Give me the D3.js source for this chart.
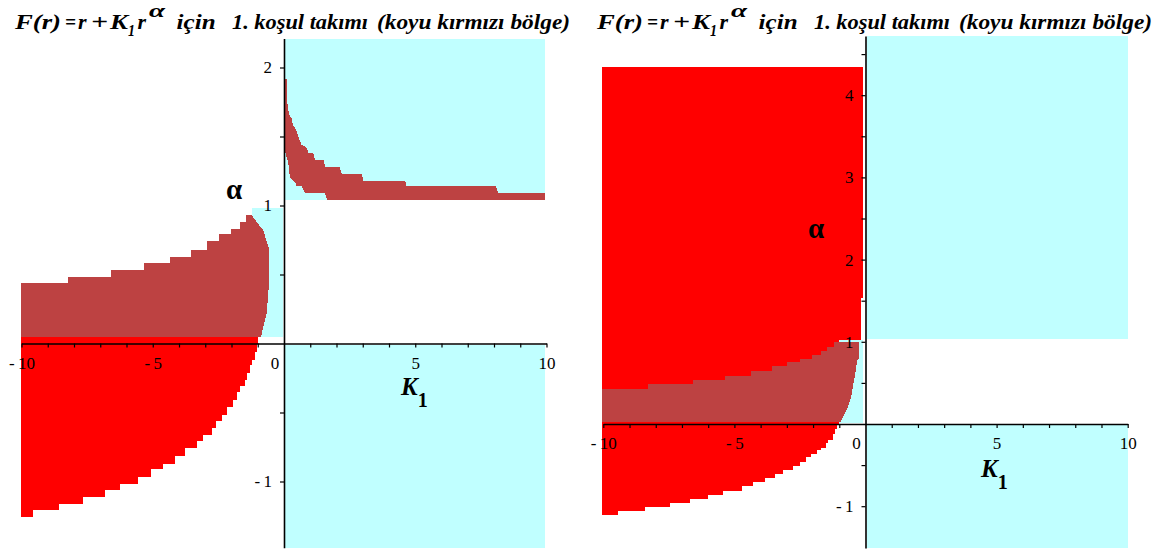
<!DOCTYPE html>
<html><head><meta charset="utf-8">
<script src="https://cdn.jsdelivr.net/npm/d3@7"></script>
<style>body{margin:0;background:#fff}svg{display:block}</style>
</head><body><svg id="c" width="1159" height="552"></svg>
<script>
// ---------------- DATA (K1, alpha) ----------------
const xTickLabels = [-10, -5, 0, 5, 10];
const leftYTickLabels = [-1, 1, 2];
const rightYTickLabels = [-1, 1, 2, 3, 4];

// Left panel
const leftCyan = [
  [[0.04,1.04],[9.95,1.04],[9.95,2.21],[0.04,2.21]],
  [[0.04,-0.01],[9.95,-0.01],[9.95,-1.48],[0.04,-1.48]],
  [[-1.22,0.045],[-0.04,0.045],[-0.04,0.985],[-1.22,0.985]]
];
const leftRedStepK = [-10.03,-9.55,-8.56,-7.67,-6.82,-6.25,-5.55,-5.08,-4.60,-4.15,-3.77,-3.33,-3.07,-2.75,-2.59,-2.37,-2.16,-1.95,-1.78,-1.68,-1.49,-1.40,-1.30,-1.21,-1.10,-1.02,-0.98];
const leftRedStepA = [-1.26,-1.21,-1.16,-1.11,-1.06,-1.02,-0.965,-0.91,-0.87,-0.815,-0.76,-0.71,-0.66,-0.615,-0.56,-0.52,-0.46,-0.41,-0.35,-0.31,-0.265,-0.215,-0.155,-0.12,-0.06,0.0];
const leftRedTop = 0.045;
const leftDarkStepK = [-10.03,-8.24,-6.59,-5.33,-4.35,-3.55,-2.94,-2.48,-2.03,-1.68,-1.45,-1.23];
const leftDarkStepA = [0.44,0.48,0.53,0.58,0.63,0.68,0.74,0.79,0.83,0.88,0.93];
const leftDarkEdge = [[-1.04,0.88],[-0.79,0.82],[-0.66,0.74],[-0.56,0.68],[-0.56,0.46],[-0.66,0.22],[-0.79,0.12],[-0.88,0.045]];
const leftDarkBottom = 0.045;
const leftBandUpper = [[0.04,1.92],[0.13,1.92],[0.13,1.74],[0.19,1.66],[0.29,1.63],[0.35,1.58],[0.46,1.55],[0.54,1.50],[0.67,1.44],[0.86,1.42],[0.93,1.38],[1.12,1.38],[1.18,1.33],[1.52,1.33],[1.56,1.28],[2.11,1.28],[2.20,1.23],[2.96,1.23],[3.02,1.18],[4.61,1.18],[4.67,1.14],[8.08,1.14],[8.16,1.09],[9.95,1.09]];
const leftBandLower = [[0.04,1.39],[0.16,1.31],[0.23,1.20],[0.42,1.17],[0.48,1.14],[0.67,1.14],[0.80,1.09],[1.56,1.09],[1.65,1.04],[9.95,1.04]];

// Right panel
const rightCyan = [
  [[0.04,1.04],[10,1.04],[10,4.72],[0.04,4.72]],
  [[0.04,-0.01],[10,-0.01],[10,-1.51],[0.04,-1.51]],
  [[-1.0,0.01],[-0.08,0.01],[-0.08,1.02],[-1.0,1.02]]
];
const rightRedUpper = [[-10.06,4.34],[-0.08,4.34],[-0.08,1.53],[-0.18,1.53],[-0.18,1.02],[-1.0,1.02],[-1.0,0.03],[-10.06,0.03]];
const rightRedStepK = [-10.06,-9.43,-8.41,-7.46,-6.69,-6.0,-5.42,-4.72,-4.28,-3.83,-3.45,-3.13,-2.75,-2.50,-2.27,-2.09,-1.86,-1.71,-1.51,-1.42,-1.25,-1.16,-1.08,-1.0];
const rightRedStepA = [-1.11,-1.06,-1.01,-0.96,-0.91,-0.86,-0.81,-0.76,-0.71,-0.66,-0.61,-0.56,-0.51,-0.46,-0.405,-0.36,-0.32,-0.29,-0.235,-0.19,-0.125,-0.065,-0.01];
const rightRedTop = 0.03;
const rightDarkStepK = [-10.06,-8.28,-6.59,-5.36,-4.38,-3.58,-3.0,-2.5,-2.05,-1.71,-1.48,-1.2,-0.24];
const rightDarkStepA = [0.43,0.49,0.54,0.59,0.64,0.70,0.75,0.79,0.84,0.89,0.94,1.0];
const rightDarkEdge = [[-0.24,0.81],[-0.31,0.77],[-0.36,0.69],[-0.40,0.59],[-0.46,0.49],[-0.52,0.37],[-0.62,0.25],[-0.72,0.17],[-0.85,0.09],[-0.97,0.02]];
const rightDarkBottom = 0.02;

// ---------------- DRAWING ----------------
const svg = d3.select("#c");
const COL = {cyan:"#c0ffff", red:"#ff0000", dark:"#bd4242"};
const SERIF = "'Liberation Serif','Times New Roman',serif";

function stepBelow(ks, as, top){
  const pts=[[ks[0],top],[ks[0],as[0]]];
  for(let i=0;i<as.length;i++){ pts.push([ks[i+1],as[i]]); if(i+1<as.length) pts.push([ks[i+1],as[i+1]]); }
  pts.push([ks[ks.length-1], top]);
  return pts;
}
function stepAbove(ks, as, edge, bottom){
  const pts=[[ks[0],bottom],[ks[0],as[0]]];
  for(let i=0;i<as.length;i++){ pts.push([ks[i+1],as[i]]); if(i+1<as.length) pts.push([ks[i+1],as[i+1]]); }
  edge.forEach(p=>pts.push(p));
  pts.push([edge[edge.length-1][0], bottom]);
  return pts;
}
const fmtTick = d => d<0 ? "-\u2009"+(-d) : String(d);

function panel(cfg){
  const {x, y, g} = cfg;
  const line = d3.line().x(d=>x(d[0])).y(d=>y(d[1]));
  const draw = (pts, col) => g.append("path").attr("d", line(pts)+"Z").attr("fill", col).attr("stroke","none").attr("shape-rendering","crispEdges");
  cfg.cyan.forEach(p=>draw(p, COL.cyan));
  cfg.reds.forEach(p=>draw(p, COL.red));
  cfg.darks.forEach(p=>draw(p, COL.dark));

  // x axis
  const xa = d3.axisBottom(x).tickValues(d3.range(-10,11,1).filter(d=>d!==0))
     .tickSize(4).tickSizeOuter(0).tickPadding(9)
     .tickFormat(d => xTickLabels.includes(d) ? fmtTick(d) : "");
  const gx = g.append("g").attr("transform",`translate(0,${y(0)})`).call(xa);
  gx.select(".domain").attr("stroke","#000").attr("stroke-width",1.6);
  gx.selectAll(".tick line").attr("stroke","#000").attr("stroke-width",1.2);
  gx.selectAll("text").attr("font-family",SERIF).attr("font-size",17).attr("fill","#000");
  g.append("text").attr("x", x(0)-9).attr("y", y(0)+9+4).attr("dy","0.71em")
    .attr("text-anchor","middle").attr("font-family",SERIF).attr("font-size",17).text(xTickLabels[2]);

  // y axis
  const ya = d3.axisLeft(y).tickValues(cfg.yTicks).tickSize(4).tickSizeOuter(0).tickPadding(8)
     .tickFormat(d => cfg.yLabels.includes(d) ? fmtTick(d) : "");
  const gy = g.append("g").attr("transform",`translate(${x(0)},0)`).call(ya);
  gy.select(".domain").attr("stroke","#000").attr("stroke-width",1.6);
  gy.selectAll(".tick line").attr("stroke","#000").attr("stroke-width",1.2);
  gy.selectAll("text").attr("font-family",SERIF).attr("font-size",17).attr("fill","#000");

  // axis titles
  g.append("text").attr("x",cfg.alphaPos[0]).attr("y",cfg.alphaPos[1]).attr("text-anchor","middle")
    .attr("font-family",SERIF).attr("font-weight","bold").attr("font-size",29).text("α");
  const kt = g.append("text").attr("x",cfg.kPos[0]).attr("y",cfg.kPos[1])
    .attr("font-family",SERIF).attr("font-weight","bold").attr("font-size",25);
  kt.append("tspan").attr("font-style","italic").text("K");
  kt.append("tspan").attr("dy",12).attr("font-size",20).text("1");

  // title
  const tg = g.append("g").attr("transform",`translate(${cfg.titleX},0)`)
     .attr("font-family",SERIF).attr("font-weight","bold").attr("font-style","italic").attr("fill","#000");
  const bl = 29;
  const piece = (txt, px, w, fs, dy) => {
    const t = tg.append("text").attr("x",px).attr("y",bl+(dy||0)).attr("font-size",fs||22).text(txt);
    if(w) t.attr("textLength",w).attr("lengthAdjust","spacingAndGlyphs");
    return t;
  };
  piece("F(r)", 0, 46);
  piece("=", 50, 11, 22);
  piece("r", 63);
  piece("+", 76, 17);
  piece("K", 95, 18);
  piece("1", 113, 7, 17, 7);
  piece("r", 122.5);
  piece("α", 134, 16, 18, -12);
  piece("için", 161.6, 39);
  piece("1. koşul takımı", 217, 136);
  piece("(koyu kırmızı bölge)", 362, 193);
}

// Left panel
const xL = d3.scaleLinear().domain([-10,10]).range([21.5,546.5]);
const yL = d3.scaleLinear().domain([-1.48,2.21]).range([343.5+1.48*138, 343.5-2.21*138]);
panel({
  g: svg.append("g"), x:xL, y:yL,
  cyan: leftCyan,
  reds: [stepBelow(leftRedStepK, leftRedStepA, leftRedTop)],
  darks: [stepAbove(leftDarkStepK, leftDarkStepA, leftDarkEdge, leftDarkBottom), leftBandUpper.concat(leftBandLower.slice().reverse())],
  yTicks: [-1,-0.5,0.5,1,1.5,2], yLabels: leftYTickLabels,
  alphaPos: [234,199], kPos: [401,395], titleX: 15
});

// Right panel
const xR = d3.scaleLinear().domain([-10,10]).range([603.3,1127.7]);
const yR = d3.scaleLinear().domain([-1.51,4.72]).range([424+1.51*82.2, 424-4.72*82.2]);
panel({
  g: svg.append("g"), x:xR, y:yR,
  cyan: rightCyan,
  reds: [rightRedUpper, stepBelow(rightRedStepK, rightRedStepA, rightRedTop)],
  darks: [stepAbove(rightDarkStepK, rightDarkStepA, rightDarkEdge, rightDarkBottom)],
  yTicks: [-1,-0.5,0.5,1,1.5,2,2.5,3,3.5,4,4.5], yLabels: rightYTickLabels,
  alphaPos: [816,238], kPos: [981,477], titleX: 597
});
</script></body></html>
